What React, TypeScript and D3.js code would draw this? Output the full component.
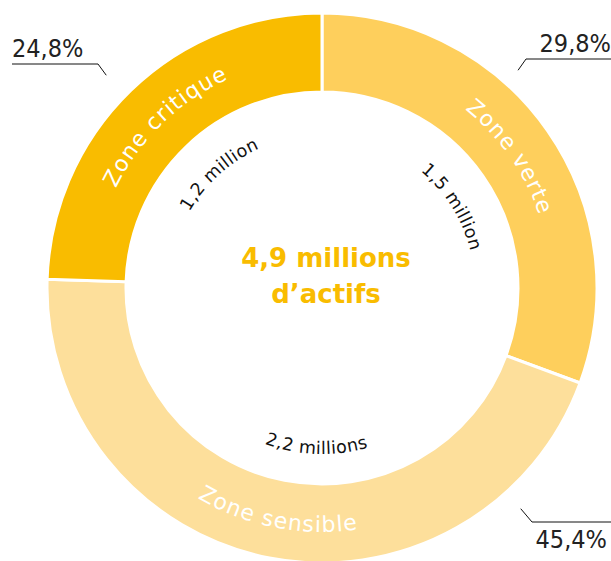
import React from "react";
import * as d3 from "d3";

// ---- data ----
const segments = ["Zone verte", "Zone sensible", "Zone critique"];
const millions = [1.5, 2.2, 1.2];
const shares = ["29,8%", "45,4%", "24,8%"];
const amounts = ["1,5 million", "2,2 millions", "1,2 million"];
const colors = ["#FECF5C", "#FDDF9B", "#F9BC00"];
const totalLines = ["4,9 millions", "d’actifs"];

// ---- layout ----
const W = 611;
const H = 561;
const CX = 322;
const CY = 288;
const R_OUT = 275;
const R_IN = 196;
const FONT = "'DejaVu Sans', sans-serif";
const FONT_C = "'DejaVu Sans Condensed', 'DejaVu Sans', sans-serif";

// bottom-facing labels read left to right (tops toward centre)
const flipped = [false, true, false];
const innerOffsetDeg = [3, -9, 2];
// percent annotations: leader start angle/radius, elbow, end, text anchor
const annot = [
  { ang: 42, rad: 293, elbow: [526, 59], end: [611, 59], tx: 611, ty: 52, anchor: "end" },
  { ang: 138, rad: 297, elbow: [532, 522], end: [611, 522], tx: 607, ty: 548, anchor: "end" },
  { ang: 314.6, rad: 303, elbow: [98, 64], end: [12, 64], tx: 12, ty: 57, anchor: "start" },
];

const toRad = (d: number) => (d * Math.PI) / 180;
const pt = (a: number, r: number): [number, number] => [r * Math.sin(a), -r * Math.cos(a)];

function arcPath(a0: number, a1: number, r: number, flip: boolean) {
  const large = Math.abs(a1 - a0) > Math.PI ? 1 : 0;
  if (!flip) {
    const p0 = pt(a0, r);
    const p1 = pt(a1, r);
    return `M${p0[0]},${p0[1]} A${r},${r} 0 ${large} 1 ${p1[0]},${p1[1]}`;
  }
  const p0 = pt(a1, r);
  const p1 = pt(a0, r);
  return `M${p0[0]},${p0[1]} A${r},${r} 0 ${large} 0 ${p1[0]},${p1[1]}`;
}

export default function App() {
  const pie = d3.pie<number>().sort(null).value((d) => d)(millions);
  const arc = d3.arc<d3.PieArcDatum<number>>().innerRadius(R_IN).outerRadius(R_OUT);

  return (
    <svg
      width={W}
      height={H}
      viewBox={`0 0 ${W} ${H}`}
      style={{ position: "fixed", left: 0, top: 0, background: "#fff" }}
    >
      <defs>
        {pie.map((p, i) => {
          const zoneR = flipped[i] ? 244 : 229;
          const mid = (p.startAngle + p.endAngle) / 2 + toRad(innerOffsetDeg[i]);
          const innerR = flipped[i] ? 166 : 153;
          return (
            <g key={i}>
              <path id={`zone-${i}`} d={arcPath(p.startAngle, p.endAngle, zoneR, flipped[i])} />
              <path id={`amt-${i}`} d={arcPath(mid - toRad(50), mid + toRad(50), innerR, flipped[i])} />
            </g>
          );
        })}
      </defs>
      <g transform={`translate(${CX},${CY})`}>
        {pie.map((p, i) => (
          <path key={i} d={arc(p) as string} fill={colors[i]} stroke="#fff" strokeWidth={3} />
        ))}
        {pie.map((p, i) => (
          <text
            key={`z${i}`}
            fill="#fff"
            fontFamily={FONT}
            fontSize={22}
            letterSpacing={1.1}
          >
            <textPath href={`#zone-${i}`} startOffset="50%" textAnchor="middle">
              {segments[i]}
            </textPath>
          </text>
        ))}
        {pie.map((p, i) => (
          <text key={`a${i}`} fill="#111" fontFamily={FONT} fontSize={17.5} letterSpacing={0.4}>
            <textPath href={`#amt-${i}`} startOffset="50%" textAnchor="middle">
              {amounts[i]}
            </textPath>
          </text>
        ))}
      </g>
      {totalLines.map((t, i) => (
        <text
          key={t}
          x={CX + 4}
          y={267 + i * 36}
          textAnchor="middle"
          fill="#F9BC00"
          fontFamily={FONT}
          fontWeight="bold"
          fontSize={26}
        >
          {t}
        </text>
      ))}
      {annot.map((a, i) => {
        const s = pt(toRad(a.ang), a.rad);
        const pts = [[CX + s[0], CY + s[1]], a.elbow, a.end];
        return (
          <g key={`p${i}`}>
            <path d={d3.line()(pts as [number, number][]) as string} fill="none" stroke="#111" strokeWidth={1} />
            <text x={a.tx} y={a.ty} textAnchor={a.anchor} fill="#222" fontFamily={FONT_C} fontSize={25}>
              {shares[i]}
            </text>
          </g>
        );
      })}
    </svg>
  );
}
